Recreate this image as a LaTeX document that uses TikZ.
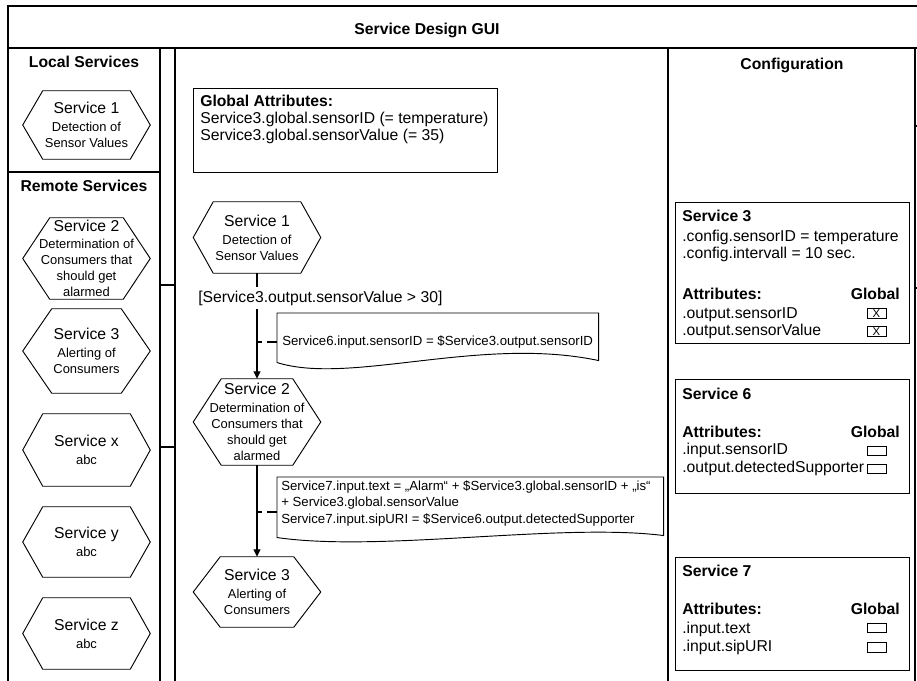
\documentclass[tikz,border=0pt]{standalone}
\usepackage{fontspec}
\setmainfont{Liberation Sans}
\usetikzlibrary{calc,arrows.meta}

\newcommand\mainf{\fontsize{11.8}{14}\selectfont}
\newcommand\hexti{\fontsize{11.8}{13}\selectfont}
\newcommand\hexsub{\fontsize{9.7}{12}\selectfont}
\newcommand\notef{\fontsize{9.9}{12.4}\selectfont}
\newcommand\chkf{\fontsize{8.5}{8.5}\selectfont}

\newcommand\hexdraw[2]{\draw[hexline] ($(#1.north west)+(#2,0)$) -- ($(#1.north east)+(-#2,0)$) -- (#1.east) -- ($(#1.south east)+(-#2,0)$) -- ($(#1.south west)+(#2,0)$) -- (#1.west) -- cycle;}

\tikzset{
  frameline/.style={draw=black, line width=0.8pt},
  hexline/.style={draw=black, line width=0.7pt},
  hexnode/.style={inner sep=0pt, minimum width=95.25pt, align=center, font=\hexsub},
  txt/.style={anchor=west, inner sep=0pt, font=\mainf, text height=8.5pt, text depth=1.5pt},
  txtb/.style={txt, font=\mainf\bfseries},
  header/.style={inner sep=0pt, font=\mainf\bfseries, text height=8.5pt, text depth=1.5pt},
  notetxt/.style={anchor=west, inner sep=0pt, font=\notef, text height=7pt, text depth=1.5pt},
  notebase/.style={inner sep=0pt, anchor=north west},
  noteline/.style={draw=black, line width=0.7pt},
  boxline/.style={draw=black, line width=0.7pt},
  chk/.style={draw=black, line width=0.6pt, minimum width=14.25pt, minimum height=7.25pt, inner sep=0pt, font=\chkf},
  flow/.style={draw=black, line width=0.8pt, -{Triangle[width=5.25pt,length=5.6pt]}},
  dashlink/.style={draw=black, line width=0.8pt, dash pattern=on 3.75pt off 3.75pt on 7.5pt off 3.75pt},
  condlabel/.style={anchor=west, font=\mainf, fill=white, inner xsep=0pt, inner ysep=3pt, text height=8.5pt, text depth=2pt}
}

\begin{document}
\begin{tikzpicture}[x=0.75pt, y=-0.75pt]
\useasboundingbox (0,0) rectangle (917,681);

% frame
\draw[frameline] (917,6) -- (8,6) -- (8,681);
\draw[frameline] (8,48) -- (917,48);
\draw[frameline] (160,48) -- (160,681);
\draw[frameline] (175,48) -- (175,681);
\draw[frameline] (160,285) -- (175,285);
\draw[frameline] (160,447) -- (175,447);
\draw[frameline] (8,172) -- (160,172);
\draw[frameline] (668,48) -- (668,681);
\draw[frameline] (915,48) -- (915,681);
\draw[frameline] (915,126) -- (917,126);
\draw[frameline] (915,288) -- (917,288);

% headers
\node[header] (title) at (427,30) {Service Design GUI};
\node[header] (localh) at (84,63) {Local Services};
\node[header] (remoteh) at (84,187) {Remote Services};
\node[header] (configh) at (792,65) {Configuration};

% left column services
\node[hexnode, minimum height=51pt] (hl1) at (86.5,125) {{\hexti Service 1}\\[1.5pt]Detection of\\Sensor Values};
\hexdraw{hl1}{20}
\node[hexnode, minimum height=60.75pt] (hl2) at (86.5,258.5) {{\hexti Service 2}\\[1pt]Determination of\\Consumers that\\should get\\alarmed};
\hexdraw{hl2}{27}
\node[hexnode, minimum height=63pt] (hl3) at (86.5,351) {{\hexti Service 3}\\[1.5pt]Alerting of\\Consumers};
\hexdraw{hl3}{29}
\node[hexnode, minimum height=54pt] (hlx) at (86.5,450) {{\hexti Service x}\\[1.5pt]abc};
\hexdraw{hlx}{20}
\node[hexnode, minimum height=52.5pt] (hly) at (86.5,542) {{\hexti Service y}\\[1.5pt]abc};
\hexdraw{hly}{20}
\node[hexnode, minimum height=53.25pt] (hlz) at (86.5,633.5) {{\hexti Service z}\\[1.5pt]abc};
\hexdraw{hlz}{20}

% global attributes
\draw[boxline] (193,88) rectangle (497,172);
\node[txtb] (gah) at (200,102) {Global Attributes:};
\node[txt] (ga1) at (200,119) {Service3.global.sensorID (= temperature)};
\node[txt] (ga2) at (200,136) {Service3.global.sensorValue (= 35)};

% middle flow
\node[hexnode, minimum height=53.25pt] (hm1) at (257,237.5) {{\hexti Service 1}\\[1.5pt]Detection of\\Sensor Values};
\hexdraw{hm1}{20}
\node[hexnode, minimum height=64.5pt] (hm2) at (257,422) {{\hexti Service 2}\\[1pt]Determination of\\Consumers that\\should get\\alarmed};
\hexdraw{hm2}{28}
\node[hexnode, minimum height=52.5pt] (hm3) at (257,592) {{\hexti Service 3}\\[1.5pt]Alerting of\\Consumers};
\hexdraw{hm3}{27}

\draw[flow] (hm1.south) -- (hm2.north);
\draw[flow] (hm2.south) -- (hm3.north);
\node[condlabel] (cond) at (198,298) {[Service3.output.sensorValue > 30]};

% note 1
\node[notebase, minimum width=240.75pt, minimum height=36.75pt] (note1) at (277,313) {};
\draw[noteline] (note1.south west) -- (note1.north west) -- (note1.north east) -- ($(note1.south east)+(0,-2)$) .. controls ($(note1.south east)+(-118,-27)$) and ($(note1.south west)+(73,23)$) .. (note1.south west);
\node[notetxt] (n1t) at (282,342) {Service6.input.sensorID = \$Service3.output.sensorID};
\coordinate (j1) at (257,342);
\draw[dashlink] (j1) -- (j1 -| note1.west);

% note 2
\node[notebase, minimum width=289.5pt, minimum height=45pt] (note2) at (277,477) {};
\draw[noteline] (note2.south west) -- (note2.north west) -- (note2.north east) -- ($(note2.south east)+(0,-2)$) .. controls ($(note2.south east)+(-103,-15)$) and ($(note2.south west)+(103,15)$) .. (note2.south west);
\node[notetxt] (n2t1) at (281,487) {Service7.input.text = „Alarm“ + \$Service3.global.sensorID + „is“};
\node[notetxt] (n2t2) at (281,503) {+ Service3.global.sensorValue};
\node[notetxt] (n2t3) at (281,520) {Service7.input.sipURI = \$Service6.output.detectedSupporter};
\coordinate (j2) at (257,512);
\draw[dashlink] (j2) -- (j2 -| note2.west);

% configuration: Service 3
\draw[boxline] (675,202) rectangle (909,343);
\node[txtb] (c3h) at (682,217) {Service 3};
\node[txt] (c3a) at (682,237) {.config.sensorID = temperature};
\node[txt] (c3b) at (682,254) {.config.intervall = 10 sec.};
\node[txtb] (c3at) at (682,295) {Attributes:};
\node[txtb, anchor=east] (c3gl) at (900,295) {Global};
\node[txt] (c3o1) at (682,314) {.output.sensorID};
\node[txt] (c3o2) at (682,331) {.output.sensorValue};
\node[chk] (c3k1) at (876.5,313.5) {X};
\node[chk] (c3k2) at (876.5,331.5) {X};

% configuration: Service 6
\draw[boxline] (675,379) rectangle (909,493);
\node[txtb] (c6h) at (682,395) {Service 6};
\node[txtb] (c6at) at (682,433) {Attributes:};
\node[txtb, anchor=east] (c6gl) at (900,433) {Global};
\node[txt] (c6i1) at (682,450) {.input.sensorID};
\node[txt] (c6o1) at (682,468) {.output.detectedSupporter};
\node[chk] (c6k1) at (876.5,451) {};
\node[chk] (c6k2) at (876.5,469) {};

% configuration: Service 7
\draw[boxline] (675,557) rectangle (909,670);
\node[txtb] (c7h) at (682,572) {Service 7};
\node[txtb] (c7at) at (682,610) {Attributes:};
\node[txtb, anchor=east] (c7gl) at (900,610) {Global};
\node[txt] (c7i1) at (682,629) {.input.text};
\node[txt] (c7i2) at (682,647) {.input.sipURI};
\node[chk] (c7k1) at (876.5,628) {};
\node[chk] (c7k2) at (876.5,647.5) {};
\end{tikzpicture}
\end{document}
